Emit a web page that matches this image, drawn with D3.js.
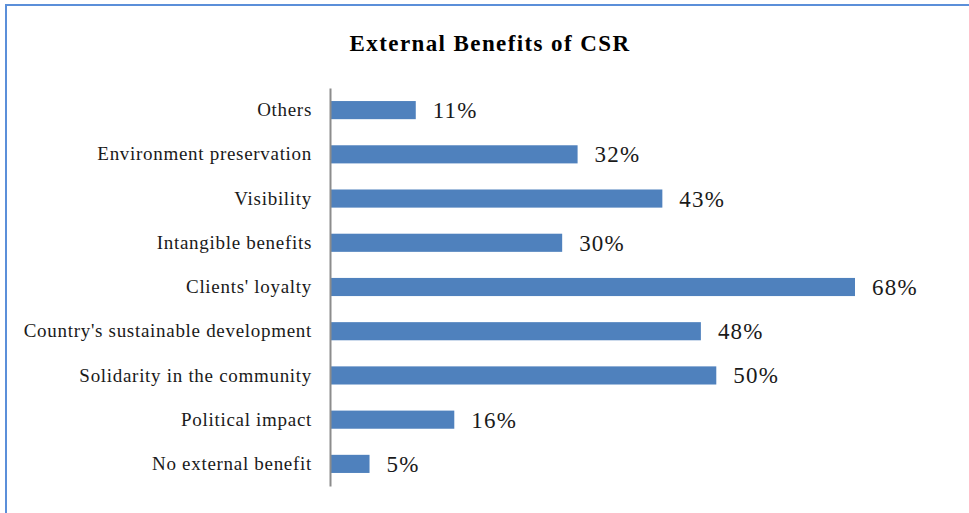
<!DOCTYPE html>
<html>
<head>
<meta charset="utf-8">
<script src="https://cdn.jsdelivr.net/npm/d3@7"></script>
<style>
  html, body { margin: 0; padding: 0; background: #fff; }
  svg { display: block; }
</style>
</head>
<body>
<svg id="chart" width="969" height="513"></svg>
<script>
const categories = ["Others", "Environment preservation", "Visibility", "Intangible benefits",
  "Clients' loyalty", "Country's sustainable development", "Solidarity in the community",
  "Political impact", "No external benefit"];
const values = [11, 32, 43, 30, 68, 48, 50, 16, 5];
const title = "External Benefits of CSR";

const svg = d3.select("#chart");
const W = 969, H = 513;
const serif = "'Liberation Serif', 'Times New Roman', serif";

// frame
svg.append("rect").attr("x", 6).attr("y", 5).attr("width", W).attr("height", H)
  .attr("fill", "none").attr("stroke", "#5b8fd9").attr("stroke-width", 2);

svg.append("text").attr("x", 490).attr("y", 51).attr("text-anchor", "middle")
  .attr("font-family", serif).attr("font-weight", "bold").attr("font-size", 23)
  .attr("letter-spacing", 1.4)
  .attr("fill", "#000").text(title);

const x0 = 331;
const x = d3.scaleLinear().domain([0, 68]).range([x0, 855]);
const y = d3.scaleBand().domain(categories).range([88, 486]).paddingInner(0.59).paddingOuter(0.295);

svg.append("g").selectAll("rect").data(categories).join("rect")
  .attr("x", x(0)).attr("y", d => y(d))
  .attr("width", (d, i) => x(values[i]) - x(0)).attr("height", y.bandwidth())
  .attr("fill", "#4f81bd");

const yAxis = d3.axisLeft(y).tickSize(0).tickPadding(18);
const g = svg.append("g").attr("transform", `translate(${x0 - 1},0)`).call(yAxis);
g.select(".domain").attr("stroke", "#8c8c8c").attr("stroke-width", 2);
g.selectAll("text").attr("font-family", serif).attr("font-size", 19)
  .attr("letter-spacing", 0.7).attr("fill", "#1a1a1a");

svg.append("g").selectAll("text").data(categories).join("text")
  .attr("x", (d, i) => x(values[i]) + 17)
  .attr("y", d => y(d) + y.bandwidth() / 2)
  .attr("dy", "0.35em")
  .attr("font-family", serif).attr("font-size", 23).attr("letter-spacing", 1.2)
  .attr("fill", "#1a1a1a")
  .text((d, i) => values[i] + "%");
</script>
</body>
</html>
